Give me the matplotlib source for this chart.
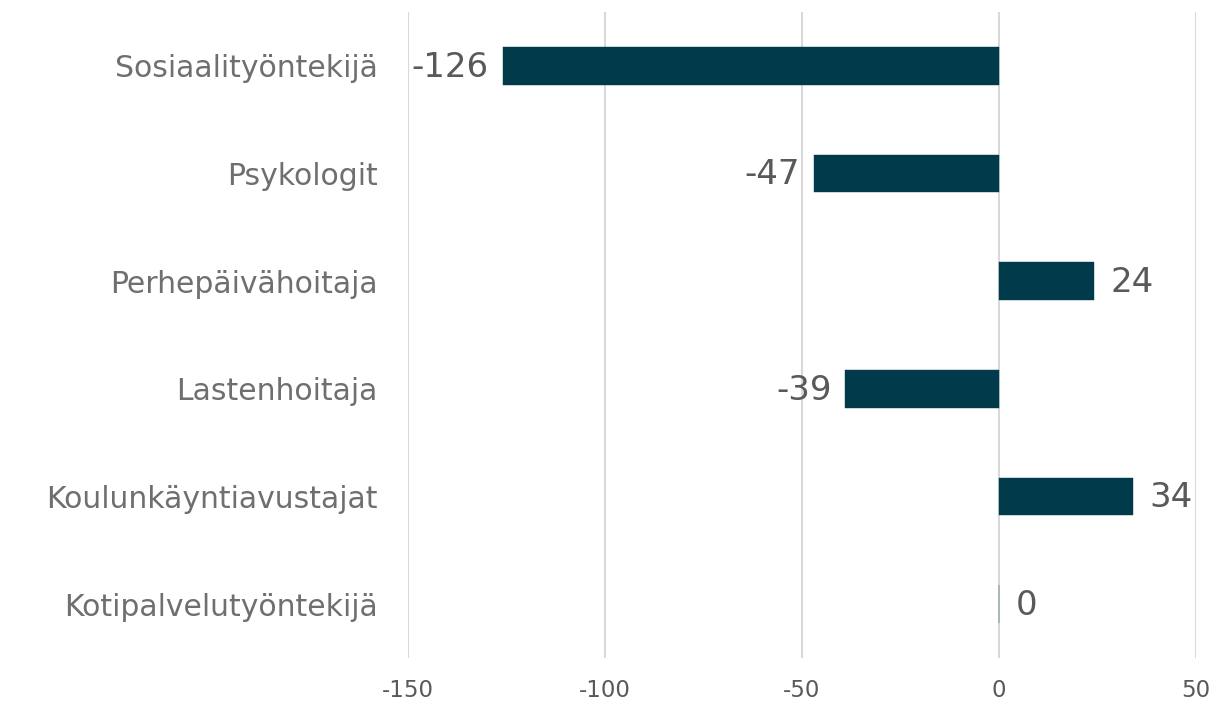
import matplotlib.pyplot as plt
import numpy as np

plt.rcParams['font.family'] = ['DejaVu Sans']

categories = ['Sosiaalityöntekijä', 'Psykologit', 'Perhepäivähoitaja',
              'Lastenhoitaja', 'Koulunkäyntiavustajat', 'Kotipalvelutyöntekijä']
values = [-126, -47, 24, -39, 34, 0]
xticks = [-150, -100, -50, 0, 50]

bar_color = '#003A4B'
text_color = '#595959'

fig = plt.figure(figsize=(12.12, 7.03), dpi=100)
ax = fig.add_axes([0.3366, 0.064, 0.6502, 0.919])

y = np.arange(len(categories))
ax.barh(y, values, height=0.35, color=bar_color, edgecolor=bar_color, linewidth=0.3, zorder=3)

# value labels next to the bars
for yi, v in zip(y, values):
    if v < 0:
        ax.annotate(str(v), (v, yi), xytext=(-10, -1), textcoords='offset points',
                    ha='right', va='center', fontsize=24.5, color=text_color)
    else:
        ax.annotate(str(v), (v, yi), xytext=(12, -1), textcoords='offset points',
                    ha='left', va='center', fontsize=24.5, color=text_color)

ax.set_xlim(-150, 50)
ax.set_ylim(len(categories) - 0.5, -0.5)
ax.set_xticks(xticks)
ax.set_xticklabels([str(t) for t in xticks])
ax.set_yticks(y)
ax.set_yticklabels(categories)

ax.tick_params(axis='x', length=0, pad=15, labelsize=16.5, labelcolor=text_color)
ax.tick_params(axis='y', length=0, pad=22, labelsize=21.5, labelcolor='#6f6f6f')
ax.grid(axis='x', color='#D9D9D9', linewidth=1.5, zorder=0)
ax.set_axisbelow(True)
for s in ax.spines.values():
    s.set_visible(False)

fig.savefig('out.png', dpi=100)
